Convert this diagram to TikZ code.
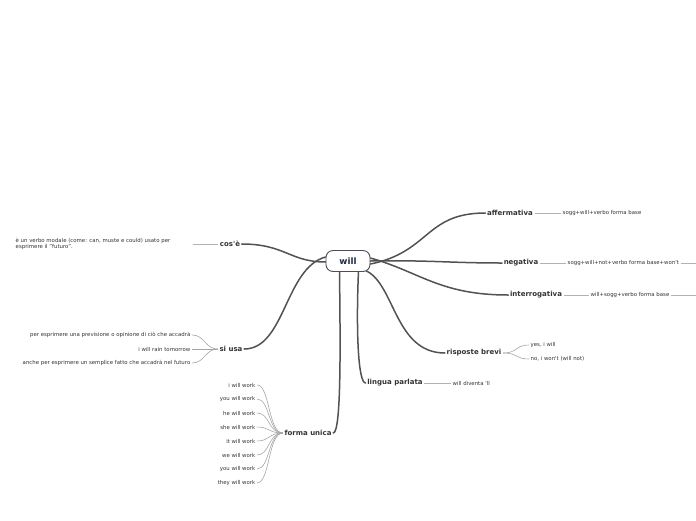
\documentclass[tikz,border=0pt]{standalone}
\usepackage{fontspec}
\setmainfont{DejaVu Sans}
\usetikzlibrary{positioning,calc}
\definecolor{rootline}{HTML}{4A4F5A}
\definecolor{roottext}{HTML}{1F2A48}
\tikzset{
root/.style={draw=rootline,line width=0.9pt,rounded corners=7pt,fill=white,minimum width=44pt,minimum height=21pt,
  inner sep=2pt,font=\bfseries\fontsize{8.8}{10}\selectfont,text=roottext},
branch/.style={inner sep=1.5pt,font=\bfseries\fontsize{7}{8}\selectfont,text=black!80},
leaf/.style={inner sep=1.5pt,font=\fontsize{5.4}{6.2}\selectfont,text=black!80},
trunk/.style={line width=1.5pt,black!68,line cap=round},
twig/.style={line width=0.6pt,black!35},
stub/.style={line width=0.8pt,black!30}
}
\begin{document}
\begin{tikzpicture}[x=1pt,y=-1pt]
\useasboundingbox (0,0) rectangle (696,520);
% root
\node[root] (will) at (348,261) {will};
% main branches
\node[branch] (aff) at (510,213) {affermativa};
\node[branch] (neg) at (521,263) {negativa};
\node[branch] (int) at (536,295) {interrogativa};
\node[branch] (rb) at (474,353) {risposte brevi};
\node[branch] (lp) at (395,383) {lingua parlata};
\node[branch] (fu) at (308,433) {forma unica};
\node[branch] (si) at (231,349) {si usa};
\node[branch] (cos) at (230,244) {cos\textquotesingle è};
% leaves
\node[leaf,anchor=west] (affL) at (561,213) {sogg+will+verbo forma base};
\node[leaf,anchor=west] (negL) at (566,263) {sogg+will+not+verbo forma base+won\textquotesingle t};
\node[leaf,anchor=west] (intL) at (589,295) {will+sogg+verbo forma base};
\node[leaf,anchor=west] (rb1) at (529,345) {yes, i will};
\node[leaf,anchor=west] (rb2) at (529,359) {no, i won\textquotesingle t (will not)};
\node[leaf,anchor=west] (lpL) at (451,383) {will diventa \textquotesingle ll};
\node[leaf,anchor=west,align=left] (cosL) at (14,244) {è un verbo modale (come: can, muste e could) usato per\\esprimere il "futuro".};
\node[leaf,anchor=east] (si1) at (192,335) {per esprimere una previsione o opinione di ciò che accadrà};
\node[leaf,anchor=east] (si2) at (192,349) {i will rain tomorrow};
\node[leaf,anchor=east] (si3) at (192,363) {anche per esprimere un semplice fatto che accadrà nel futuro};
\foreach \t [count=\i] in {i will work,you will work,he will work,she will work,it will work,we will work,you will work,they will work}
  \node[leaf,anchor=east] (fu\i) at (257,371+14*\i) {\t};
\coordinate (negX) at (696,263);
\coordinate (intX) at (696,295);
\coordinate (cosX) at (193,244);

% trunks
\draw[trunk] ([yshift=-3pt]will.east) .. controls (430,252) and (425,213) .. (aff.west);
\draw[trunk] ([yshift=0pt]will.east) .. controls (430,260) and (450,263) .. (neg.west);
\draw[trunk] ([yshift=3pt]will.east) .. controls (420,272) and (440,295) .. (int.west);
\draw[trunk] ([xshift=-4pt,yshift=1pt]will.south east) .. controls (395,285) and (395,353) .. (rb.west);
\draw[trunk] ([xshift=-12pt]will.south east) .. controls (356,330) and (358,383) .. (lp.west);
\draw[trunk] ([xshift=14pt]will.south west) .. controls (340,330) and (342,433) .. (fu.east);
\draw[trunk] ([yshift=4pt]will.west) .. controls (285,268) and (285,349) .. (si.east);
\draw[trunk] ([yshift=-1pt]will.west) .. controls (290,262) and (285,244) .. (cos.east);

% twigs
\draw[stub] (aff.east) -- (affL.west);
\draw[stub] (neg.east) -- (negL.west);
\draw[stub] (negL.east) -- (negX);
\draw[stub] (int.east) -- (intL.west);
\draw[stub] (intL.east) -- (intX);
\draw[stub] (lp.east) -- (lpL.west);
\draw[stub] (cos.west) -- (cosX);
\draw[twig] (rb.east) .. controls (518,353) and (515,345) .. (rb1.west);
\draw[twig] (rb.east) .. controls (518,353) and (515,359) .. (rb2.west);
\foreach \i in {1,2,3}
  \draw[twig] (si.west) .. controls (205,349) and (205,335+14*\i-14) .. (si\i.east);
\foreach \i in {1,...,8}
  \draw[twig] (fu.west) .. controls (268,433) and (270,371+14*\i) .. (fu\i.east);
\end{tikzpicture}
\end{document}
